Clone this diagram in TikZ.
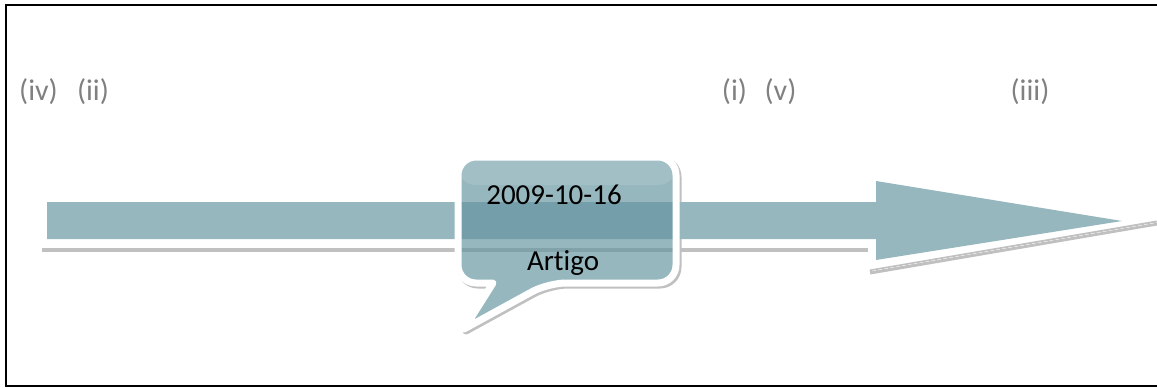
\documentclass[tikz,border=0pt]{standalone}
\usepackage{fontspec}
\setmainfont[Ligatures=NoCommon]{Carlito}
\usepackage{tikz}
\usetikzlibrary{positioning}

\definecolor{shaftcol}{RGB}{151,183,191}
\definecolor{boxcol}{RGB}{100,148,160}
\definecolor{shadowcol}{RGB}{192,192,192}
\definecolor{labelcol}{RGB}{128,128,128}

\begin{document}
\begin{tikzpicture}[x=1pt,y=-1pt]
\tikzstyle{every node}+=[inner sep=0pt]
\tikzstyle{lbl}=[text=labelcol,font=\fontsize{30}{34}\selectfont]
\tikzstyle{boxtext}=[text=black,font=\fontsize{29}{33}\selectfont]
\tikzstyle{bubble}=[rounded corners=18]
\useasboundingbox (0,0) rectangle (1157,388);
% frame
\draw [black,line width=2pt] (1157,5) -- (6,5) -- (6,386) -- (1157,386);
% labels
\draw (38.5,92) node [lbl] (iv) {(iv)};
\draw (93,92) node [lbl] (ii) {(ii)};
\draw (734.5,92) node [lbl] (i) {(i)};
\draw (780.5,92) node [lbl] (v) {(v)};
\draw (1030,92) node [lbl] (iii) {(iii)};
% callout shadow and base
\filldraw [shadowcol,line width=7pt,line join=round,bubble,shift={(2,2)}] (567,157) -- (676,157) -- (676,283) -- (548,283) [sharp corners] -- (464,329) -- (493,283) [rounded corners=18] -- (458,283) -- (458,157) -- cycle;
\fill [white,bubble] (567,157) -- (676,157) -- (676,283) -- (548,283) [sharp corners] -- (464,329) -- (493,283) [rounded corners=18] -- (458,283) -- (458,157) -- cycle;
% arrow
\fill [shadowcol] (42,248) rectangle (868,252);
\fill [shaftcol] (47,202) -- (876,202) -- (876,181) -- (1122,221) -- (876,260) -- (876,239) -- (47,239) -- cycle;
\draw [shadowcol,line width=5pt] (870,272) -- (1157,223);
\draw [white,line width=0.4pt,dash pattern=on 4pt off 2pt] (872,271) -- (1157,222.5);
% callout
\fill [boxcol,opacity=0.67,bubble] (567,157) -- (676,157) -- (676,283) -- (548,283) [sharp corners] -- (464,329) -- (493,283) [rounded corners=18] -- (458,283) -- (458,157) -- cycle;
\fill [white,opacity=0.12,bubble] (458,157) rectangle (676,185);
\draw [white,line width=7pt,line join=round,bubble] (567,157) -- (676,157) -- (676,283) -- (548,283) [sharp corners] -- (464,329) -- (493,283) [rounded corners=18] -- (458,283) -- (458,157) -- cycle;
\draw (554,195) node [boxtext] (date) {2009-10-16};
\draw (563,263) node [boxtext] (kind) {Artigo};
\end{tikzpicture}
\end{document}
